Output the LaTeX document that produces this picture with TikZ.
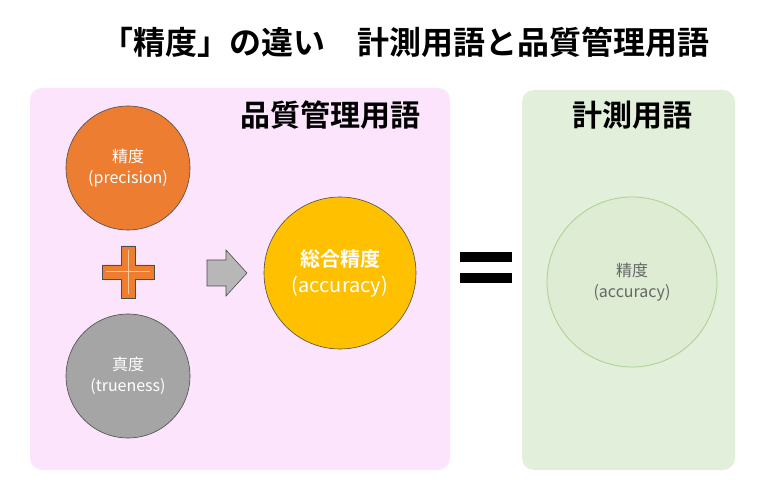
\documentclass[tikz,border=0pt]{standalone}
\usepackage{fontspec}
\setmainfont{Noto Sans CJK JP}[BoldFont={Noto Sans CJK JP Bold}]
\definecolor{pinkbg}{HTML}{FCE4FC}
\definecolor{greenbg}{HTML}{E2EFDA}
\definecolor{orng}{HTML}{ED7D31}
\definecolor{gry}{HTML}{A5A5A5}
\definecolor{yel}{HTML}{FFC000}
\definecolor{lgreen}{HTML}{C6E0B4}
\definecolor{dgreen}{HTML}{A9D18E}
\begin{document}
\begin{tikzpicture}[x=1pt,y=-1pt,
  ball/.style={circle,draw=black!70,line width=0.6pt,text=white,align=center,font=\fontsize{16}{21}\selectfont,inner sep=0pt},
  head/.style={font=\bfseries\fontsize{30}{34}\selectfont}]
\useasboundingbox (0,0) rectangle (768,502);
\fill[white] (0,0) rectangle (768,502);
\node[font=\bfseries\fontsize{32}{36}\selectfont] (title) at (405,42) {「精度」の違い\quad 計測用語と品質管理用語};
\fill[pinkbg,rounded corners=12pt] (30,88) rectangle (450,470);
\fill[greenbg,rounded corners=12pt] (522,90) rectangle (735,470);
\node[head] (h1) at (330,115) {品質管理用語};
\node[head] (h2) at (632,115) {計測用語};
\node[ball,fill=orng,minimum size=124pt] (p) at (128,168) {精度\\(precision)};
\node[ball,fill=gry,minimum size=124pt] (t) at (128,376) {真度\\(trueness)};
\node[ball,fill=yel,minimum size=152pt,font=\fontsize{20}{26}\selectfont] (a) at (340,273) {\textbf{総合精度}\\(accuracy)};
\node[circle,fill=lgreen!60,draw=dgreen,line width=0.8pt,minimum size=170pt,text=black!60,align=center,font=\fontsize{16}{21}\selectfont] (g) at (632,282) {精度\\(accuracy)};
% plus
\path[fill=orng,draw=black!70,line width=0.6pt] (121,246) -- (135,246) -- (135,265) -- (154,265) -- (154,279) -- (135,279) -- (135,298) -- (121,298) -- (121,279) -- (102,279) -- (102,265) -- (121,265) -- cycle;
\draw[orange!40,line width=1pt] (128,250)--(128,294) (106,272)--(150,272);
% arrow
\path[fill=gry!80,draw=black!70,line width=0.6pt] (207,260) -- (226,260) -- (226,250) -- (247,273) -- (226,296) -- (226,286) -- (207,286) -- cycle;
% equals
\fill[black] (460,252) rectangle (512,262);
\fill[black] (460,273) rectangle (512,283);
\end{tikzpicture}
\end{document}
